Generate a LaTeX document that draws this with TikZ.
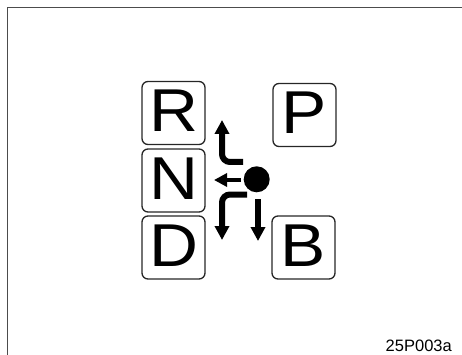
\documentclass[tikz,border=0pt]{standalone}
\usepackage{fontspec}
\setmainfont{Liberation Sans}
\newfontfamily\gearfont[FakeStretch=1.12]{Liberation Sans}
\usetikzlibrary{arrows.meta}

\begin{document}
\begin{tikzpicture}[
  x=1pt, y=-1pt,
  gearbox/.style={draw=black!85, line width=1.3pt, rounded corners=6pt, minimum width=63pt, minimum height=63pt, inner sep=0pt, text depth=4pt, font=\gearfont\fontsize{60.5}{60}\selectfont},
  knobdot/.style={circle, fill=black, minimum size=26pt, inner sep=0pt},
  shiftarrow/.style={-{Triangle[length=14pt,width=14pt]}, line width=6pt, rounded corners=8pt},
  pusharrow/.style={-{Triangle[length=13pt,width=13pt]}, line width=4.5pt},
  frameline/.style={draw=black!70, line width=0.8pt}
]
\useasboundingbox (0,0) rectangle (462,355);
\draw[frameline] (7,355) -- (7,7) -- (462,7);

\node[gearbox] (rev) at (173.5,113) {R};
\node[gearbox] (neutral) at (173.5,180.5) {N};
\node[gearbox] (drive) at (173.5,247.5) {D};
\node[gearbox] (park) at (304.5,115) {P};
\node[gearbox] (brake) at (303.5,247.5) {B};
\node[knobdot] (knob) at (256.7,179.3) {};

\coordinate (upstart) at (243,162);
\coordinate (upend) at (222,120);
\coordinate (leftstart) at (241,180);
\coordinate (leftend) at (214,180);
\coordinate (dlstart) at (247,194.5);
\coordinate (dlend) at (222,240);
\coordinate (drstart) at (258,199);
\coordinate (drend) at (258,241);

\draw[shiftarrow] (upstart) -| (upend);
\draw[pusharrow] (leftstart) -- (leftend);
\draw[shiftarrow] (dlstart) -| (dlend);
\draw[shiftarrow] (drstart) -- (drend);

\node[anchor=base east, inner sep=0pt, font=\fontsize{16.5}{16.5}\selectfont] (code) at (452,351) {25P003a};
\end{tikzpicture}
\end{document}
